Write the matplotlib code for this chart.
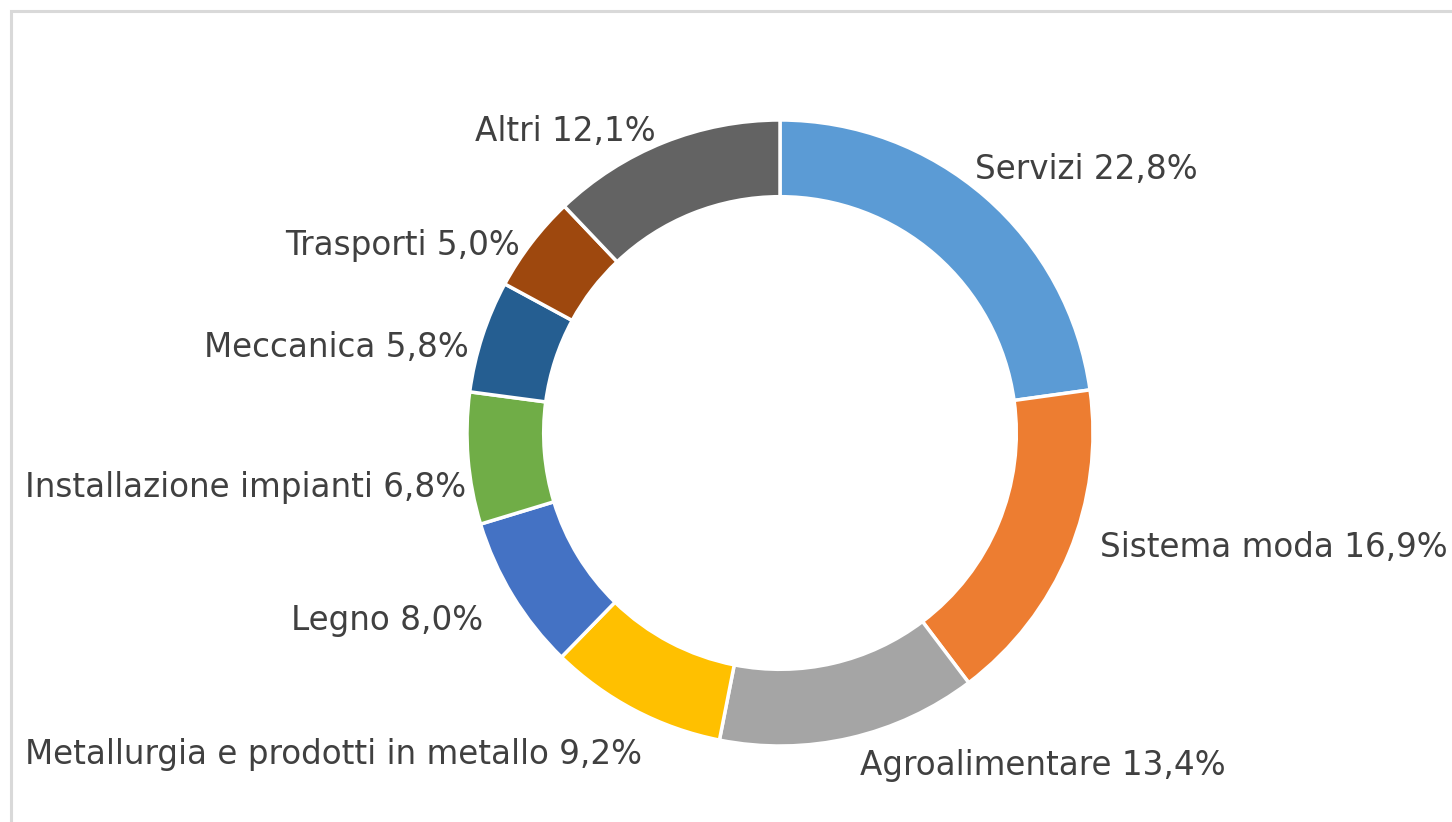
import numpy as np
import matplotlib
matplotlib.use("Agg")
import matplotlib.pyplot as plt
from matplotlib.patches import Rectangle

# quote per settore (%)
settori = ["Servizi", "Sistema moda", "Agroalimentare",
           "Metallurgia e prodotti in metallo", "Legno",
           "Installazione impianti", "Meccanica", "Trasporti", "Altri"]
quote = [22.8, 16.9, 13.4, 9.2, 8.0, 6.8, 5.8, 5.0, 12.1]
colori = ["#5B9BD5", "#ED7D31", "#A5A5A5", "#FFC000", "#4472C4",
          "#70AD47", "#255E91", "#9E480E", "#636363"]

# piccoli aggiustamenti delle etichette (pixel, x a destra / y in basso)
scost = [(-23, -16), (13, -15), (6, 7), (0, 25), (-13, 13),
         (0, 25), (4, 15), (3, 12), (-1, 4)]

W, H = 1452, 822
fig = plt.figure(figsize=(W / 100, H / 100), dpi=100)
ax = fig.add_axes([0, 0, 1, 1])

cx, cy, R = 780, H - 433, 313
ax.pie(quote, colors=colori, startangle=90, counterclock=False,
       center=(cx, cy), radius=R, frame=True,
       wedgeprops=dict(width=R * 0.245, edgecolor="white", linewidth=2.5))
ax.set_xlim(0, W)
ax.set_ylim(0, H)
ax.axis("off")

# cornice grigia dell'area grafico
ax.add_patch(Rectangle((10.5, -100), 2000, H - 10.5 + 100, fill=False,
                       edgecolor="#D9D9D9", linewidth=2.2, clip_on=False))

# etichette esterne
cum = np.cumsum([0] + quote[:-1])
testi = []
for nome, q, c0, (dx, dy) in zip(settori, quote, cum, scost):
    ang = np.deg2rad(90 - 360 * (c0 + q / 2) / 100)
    x = cx + 1.06 * R * np.cos(ang) + dx
    y = cy + 1.06 * R * np.sin(ang) - dy - 12
    ha = "left" if np.cos(ang) > 0 else "right"
    lab = f"{nome} {q:.1f}%".replace(".", ",")
    t = ax.text(x, y, lab, ha=ha, va="baseline", fontsize=23.5,
                color="#404040", family="DejaVu Sans")
    testi.append(t)

# come Excel: le etichette restano dentro la cornice
fig.canvas.draw()
r = fig.canvas.get_renderer()
for t in testi:
    bb = t.get_window_extent(r)
    if bb.x0 < 24:
        x, y = t.get_position()
        t.set_position((x + 25 - bb.x0, y))

fig.savefig("out.png", dpi=100, facecolor="white")
